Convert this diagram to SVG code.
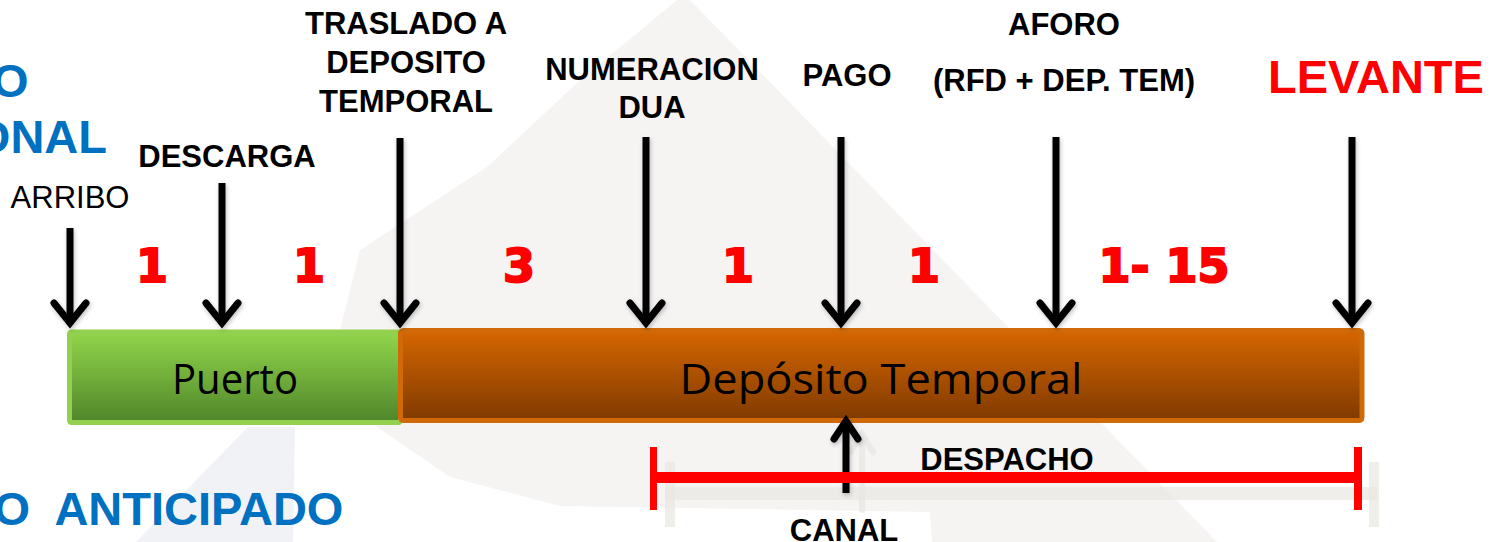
<svg xmlns="http://www.w3.org/2000/svg" width="1492" height="542" viewBox="0 0 1492 542">
  <style>
    .lbl { font-family: "Liberation Sans", Arial, sans-serif; font-weight: bold; font-size: 31px; fill: #000; text-anchor: middle; }
    .blue { font-family: "Liberation Sans", Arial, sans-serif; font-weight: bold; font-size: 47px; fill: #0070c0; }
    .num { font-family: "DejaVu Sans", sans-serif; font-weight: bold; font-size: 46px; fill: #ff0000; stroke: #ff0000; stroke-width: 2; text-anchor: middle; }
    .bar { font-family: "Open Sans", "Noto Sans", sans-serif; font-size: 42px; fill: #000; text-anchor: middle; }
    .shaft { stroke: #000; stroke-width: 7; fill: none; }
    .head { stroke: #000; stroke-width: 7; fill: none; stroke-linecap: round; stroke-linejoin: miter; }
    .ghost { fill: #e9e7e2; opacity: 0.7; }
  </style>
  <defs>
    <linearGradient id="gGreen" x1="0" y1="0" x2="0" y2="1">
      <stop offset="0" stop-color="#92d64b"/>
      <stop offset="1" stop-color="#4f852a"/>
    </linearGradient>
    <linearGradient id="gOrange" x1="0" y1="0" x2="0" y2="1">
      <stop offset="0" stop-color="#d66600"/>
      <stop offset="1" stop-color="#7f3a00"/>
    </linearGradient>
    <filter id="sh" x="-20%" y="-5%" width="140%" height="110%">
      <feDropShadow dx="1" dy="2" stdDeviation="2" flood-color="#000" flood-opacity="0.25"/>
    </filter>
  </defs>

  <!-- background -->
  <rect x="0" y="0" width="1492" height="542" fill="#ffffff"/>
  <g id="watermark">
    <polygon points="677,0 690,0 1217,542 932,542 930,512 560,506 450,477 377,427 340,330 360,250 487,167 577,83" fill="#f6f3f3"/>
    <polygon points="248,427 295,427 293,542 136,542" fill="#f1f2f5"/>
  </g>

  <!-- reflections -->
  <g id="reflection">
    <rect class="ghost" x="665" y="487" width="712" height="13"/>
    <rect class="ghost" x="665" y="462" width="10" height="65"/>
    <rect class="ghost" x="1369" y="462" width="10" height="65"/>
    <path d="M862 510 V436 M851 452 L862 434 L873 452" stroke="#e9e7e2" stroke-width="6" fill="none" stroke-linecap="round" opacity="0.8"/>
  </g>

  <!-- bars -->
  <g id="puerto">
    <rect x="69.5" y="332" width="331" height="90.5" rx="2" fill="url(#gGreen)" stroke="#92d050" stroke-width="5"/>
    <text class="bar" x="235" y="394" textLength="126" lengthAdjust="spacingAndGlyphs">Puerto</text>
  </g>
  <g id="deposito">
    <rect x="400.5" y="330.5" width="961.5" height="90" rx="3" fill="url(#gOrange)" stroke="#d06a08" stroke-width="5"/>
    <text class="bar" x="881" y="394" font-size="44" textLength="403" lengthAdjust="spacingAndGlyphs">Depósito Temporal</text>
  </g>

  <!-- side texts -->
  <g id="side-texts">
    <text class="blue" x="-8" y="97">O</text>
    <text class="blue" x="107" y="153" text-anchor="end">ONAL</text>
    <text class="blue" x="-6.5" y="525" xml:space="preserve" style="white-space:pre">O  ANTICIPADO</text>
  </g>

  <!-- labels -->
  <g id="label-arribo">
    <text x="70" y="208" font-family="Liberation Sans, Arial, sans-serif" font-size="31" text-anchor="middle" fill="#000">ARRIBO</text>
  </g>
  <g id="label-descarga">
    <text class="lbl" x="227" y="167">DESCARGA</text>
  </g>
  <g id="label-traslado">
    <text class="lbl" x="406" y="34">TRASLADO A</text>
    <text class="lbl" x="406" y="73">DEPOSITO</text>
    <text class="lbl" x="406" y="112">TEMPORAL</text>
  </g>
  <g id="label-numeracion">
    <text class="lbl" x="652" y="80">NUMERACION</text>
    <text class="lbl" x="652" y="118">DUA</text>
  </g>
  <g id="label-pago">
    <text class="lbl" x="847" y="86">PAGO</text>
  </g>
  <g id="label-aforo">
    <text class="lbl" x="1064" y="35">AFORO</text>
    <text class="lbl" x="1064" y="91">(RFD + DEP. TEM)</text>
  </g>
  <g id="label-levante">
    <text x="1376" y="93" font-family="Liberation Sans, Arial, sans-serif" font-weight="bold" font-size="47" fill="#ff0000" text-anchor="middle">LEVANTE</text>
  </g>

  <!-- durations -->
  <g id="durations">
    <text class="num" x="152" y="282">1</text>
    <text class="num" x="309" y="282">1</text>
    <text class="num" x="519" y="282">3</text>
    <text class="num" x="738" y="282">1</text>
    <text class="num" x="924" y="282">1</text>
    <text class="num" x="1164" y="282" xml:space="preserve" style="white-space:pre">1- 15</text>
  </g>

  <!-- connectors -->
  <g id="connectors" filter="url(#sh)">
    <path class="shaft" d="M70 228 V322"/>
    <path class="head" d="M54 303 L70 323 L86 303"/>
    <path class="shaft" d="M222 183 V322"/>
    <path class="head" d="M206 303 L222 323 L238 303"/>
    <path class="shaft" d="M400 138 V322"/>
    <path class="head" d="M384 303 L400 323 L416 303"/>
    <path class="shaft" d="M646 137 V322"/>
    <path class="head" d="M630 303 L646 323 L662 303"/>
    <path class="shaft" d="M841 137 V322"/>
    <path class="head" d="M825 303 L841 323 L857 303"/>
    <path class="shaft" d="M1056 137 V322"/>
    <path class="head" d="M1040 303 L1056 323 L1072 303"/>
    <path class="shaft" d="M1352 137 V322"/>
    <path class="head" d="M1336 303 L1352 323 L1368 303"/>
    <!-- CANAL up arrow -->
    <path class="shaft" d="M846 493 V424"/>
    <path class="head" d="M834 439 L846 421 L858 439"/>
  </g>

  <!-- despacho bracket -->
  <g id="despacho">
    <rect x="650" y="447" width="7" height="63" fill="#ff0000"/>
    <rect x="657" y="472" width="698" height="11" fill="#ff0000"/>
    <rect x="1354" y="447" width="8" height="63" fill="#ff0000"/>
    <text class="lbl" x="1007" y="470">DESPACHO</text>
  </g>
  <g id="canal">
    <text class="lbl" x="844" y="541">CANAL</text>
  </g>
</svg>
